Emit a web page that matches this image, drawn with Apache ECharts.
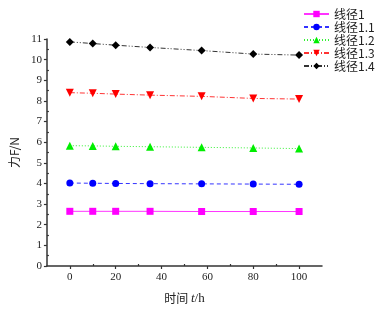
<!DOCTYPE html>
<html><head><meta charset="utf-8">
<script src="https://cdn.jsdelivr.net/npm/echarts@6/dist/echarts.min.js"></script>
<style>html,body{margin:0;padding:0;background:#fff}#c{width:382px;height:310px}</style>
</head><body><div id="c"></div>
<script>
var times = [0, 10, 20, 35, 57.5, 80, 100];
var seriesNames = ['线径1', '线径1.1', '线径1.2', '线径1.3', '线径1.4'];
var d1 = [2.65, 2.65, 2.65, 2.65, 2.64, 2.64, 2.64];
var d11 = [4.02, 4.01, 4.00, 3.99, 3.98, 3.97, 3.96];
var d12 = [5.83, 5.82, 5.80, 5.78, 5.75, 5.72, 5.69];
var d13 = [8.40, 8.37, 8.33, 8.28, 8.22, 8.12, 8.09];
var d14 = [10.86, 10.78, 10.70, 10.59, 10.44, 10.27, 10.22];
var xMajor = [0, 20, 40, 60, 80, 100];
var xMinor = [10, 30, 50, 70, 90];
var yMajor = [0,1,2,3,4,5,6,7,8,9,10,11];
var yMinor = [0.5,1.5,2.5,3.5,4.5,5.5,6.5,7.5,8.5,9.5,10.5];

function pairs(v){ return times.map(function(t,i){return [t, v[i]];}); }
var serif = '"Liberation Serif", "DejaVu Serif", serif';
var styles = [
  {c:'#ff00ff', s:'rect', t:'solid', sz:7},
  {c:'#0000ff', s:'circle', t:[4,3], sz:7},
  {c:'#00ee00', s:'triangle', t:[1,2], sz:8},
  {c:'#ff0000', s:'path://M0,0 L10,0 L5,9 Z', t:[5,2,1,2], sz:8},
  {c:'#000000', s:'diamond', t:[5,2,1,2,1,2], sz:8}
];
var datas = [d1, d11, d12, d13, d14];
var chart = echarts.init(document.getElementById('c'));
var axisLine = {show:true, onZero:false, lineStyle:{color:'#333', width:1.5}};
chart.setOption({
  animation:false,
  grid:{left:36, right:60, top:39, bottom:41, containLabel:false},
  legend:{
    orient:'vertical', left:303, top:8, padding:0, itemWidth:25, itemHeight:8, itemGap:1,
    textStyle:{fontFamily:'"Noto Sans CJK SC", ' + serif, fontSize:12, color:'#222'},
    data: seriesNames
  },
  xAxis:[{
    type:'value', min:-10, max:110,
    axisLine:axisLine,
    axisTick:{show:true, length:3, customValues:xMajor, lineStyle:{color:'#333', width:1.2}},
    axisLabel:{customValues:xMajor, fontFamily:serif, fontSize:11, color:'#222', margin:6},
    splitLine:{show:false},
    name:'{a|时间 }{b|t}{c|/h}', nameLocation:'middle', nameGap:26,
    nameTextStyle:{rich:{
      a:{fontFamily:'"Noto Sans CJK SC"', fontSize:12, color:'#222'},
      b:{fontFamily:serif, fontStyle:'italic', fontSize:13, color:'#222'},
      c:{fontFamily:serif, fontSize:13, color:'#222'}}}
  },{
    type:'value', min:-10, max:110, position:'bottom',
    axisLine:{show:false, onZero:false},
    axisTick:{show:true, inside:true, length:2, customValues:xMinor, lineStyle:{color:'#333', width:1.2}},
    axisLabel:{show:false}, splitLine:{show:false}
  }],
  yAxis:[{
    type:'value', min:0, max:11, interval:1,
    axisLine:axisLine,
    axisTick:{show:true, length:3, customValues:yMajor, lineStyle:{color:'#333', width:1.2}},
    axisLabel:{fontFamily:serif, fontSize:11, color:'#222', margin:5},
    splitLine:{show:false},
    name:'力F/N', nameLocation:'middle', nameGap:22, nameRotate:90,
    nameTextStyle:{fontFamily:'"Noto Sans CJK SC"', fontSize:12, color:'#222'}
  },{
    type:'value', min:0, max:11, position:'left',
    axisLine:{show:false, onZero:false},
    axisTick:{show:true, inside:true, length:2, customValues:yMinor, lineStyle:{color:'#333', width:1.2}},
    axisLabel:{show:false}, splitLine:{show:false}
  }],
  series: datas.map(function(d,i){
    var st = styles[i];
    return {
      name: seriesNames[i], type:'line', data: pairs(d),
      xAxisIndex:0, yAxisIndex:0,
      symbol: st.s, symbolSize: st.sz, showSymbol:true,
      itemStyle:{color: st.c},
      lineStyle:{color: st.c, width:1, type: st.t, opacity:0.8}
    };
  })
});
</script></body></html>
